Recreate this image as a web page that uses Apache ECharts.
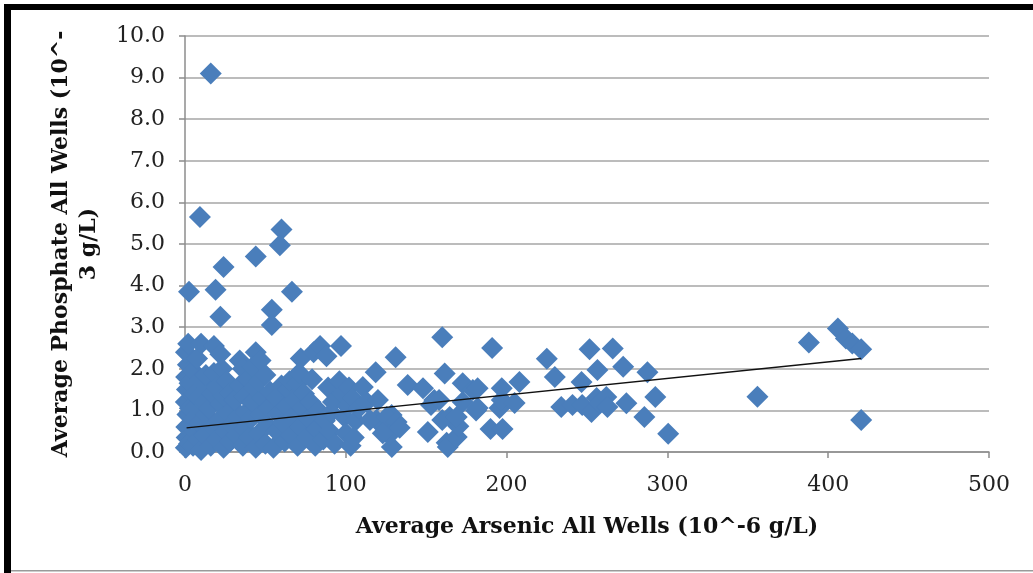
<!DOCTYPE html>
<html>
<head>
<meta charset="utf-8">
<script src="https://cdn.jsdelivr.net/npm/echarts@6/dist/echarts.min.js"></script>
<style>
  html, body { margin: 0; padding: 0; background: #fff; }
  #chart { width: 1033px; height: 573px; }
</style>
</head>
<body>
<div id="chart"></div>
<script>
// arsenic (x) vs phosphate (y)
const clusterPoints = [
  [0.5,0.1],[1,0.35],[0.8,0.6],[1.5,0.9],[0.5,1.2],[1.2,1.5],[0.7,1.8],[1.8,2.1],[0.6,2.4],[2,2.6],[2.5,0.2],[3,1.05],[2.8,1.65],
  [5,0.15],[6,0.5],[5.5,0.8],[7,1.1],[6,1.4],[5,1.95],[7.5,2.25],[8,0.3],[9,0.7],[8.5,1.3],[9.5,1.75],[10,2.6],[10,0.05],
  [12,0.4],[13,0.9],[12,1.2],[14,1.55],[13,1.85],[16,0.15],[17,0.6],[15,1.05],[17,1.4],[18,2.55],[18,1.9],
  [20,0.3],[21,0.75],[22,1.15],[20,1.55],[23,2.0],[22,2.35],[24,0.1],[25,0.5],[26,0.95],[24,1.35],[26,1.7],
  [28,0.25],[29,0.65],[30,1.05],[28,1.4],[32,0.4],[33,0.85],[31,1.25],[34,1.6],[34,2.2],[36,2.0],
  [36,0.15],[37,0.55],[38,0.95],[37,1.35],[39,1.75],[40,0.35],[41,0.8],[42,1.2],[43,1.55],[44,2.4],[42,2.05],[44,0.1],
  [46,0.45],[47,0.9],[48,1.3],[46,1.7],[47,2.2],[50,0.2],[51,0.65],[52,1.05],[53,1.45],[50,1.85],[55,0.1],
  [57,0.5],[58,0.9],[57,1.3],[60,1.6],[62,0.25],[61,0.7],[63,1.1],[64,1.5],[65,1.7],
  [66,0.4],[67,0.85],[68,1.25],[70,1.65],[72,2.25],[71,1.9],[70,0.15],[72,0.6],[73,1.05],[74,1.4],
  [76,0.35],[77,0.8],[78,1.2],[79,1.75],[80,2.4],[82,0.55],[83,1.0],[84,2.55],[81,0.15],
  [86,0.3],[87,0.75],[88,2.3],[89,1.55],[90,0.5],[91,0.95],[92,1.2],[93,0.2],
  [96,1.7],[97,2.55],[98,1.4],[99,0.85],[100,0.45],[101,1.1],[102,1.55],[103,0.15],[104,1.3],[106,0.75],[108,1.05],[105,0.35]
];
const midPoints = [
  [110.6,1.56],[113,1.2],[118.6,1.92],[120,1.25],[119,0.77],[115,0.77],[128.5,0.89],[125.5,0.84],[131.6,0.72],
  [128.6,0.12],[127,0.41],[123,0.45],[133.5,0.58],[131,2.28],[138.5,1.61],[148,1.53],[151,0.48],[155,1.25],[153,1.13],
  [158,1.25],[160,2.76],[161.5,1.89],[160,0.77],[164.6,0.84],[162.7,0.22],[163.4,0.12],[169,0.36],[170,0.62],
  [169,0.84],[172.7,1.2],[172.7,1.65],[179,1.49],[182,1.53],[181,1.0],[182,1.06],[190,0.55],[191,2.5],[197.5,0.55],
  [195.6,1.06],[197,1.25],[197,1.53],[205,1.18],[208,1.68],[225,2.24],[230,1.8],[234,1.08],[241,1.13],[246.6,1.68],
  [247,1.13],[251.6,2.47],[252.8,0.96],[256,1.3],[256.5,1.97],[257.8,1.18],[262,1.32],[262.7,1.08],[266,2.49],
  [272.5,2.05],[274.5,1.17],[285.7,0.84],[287.6,1.92],[292.5,1.32],[300.5,0.44]
];
const highPoints = [
  [16,9.1],[9.3,5.65],[2.5,3.85],[19,3.9],[22,3.25],[24,4.45],[44,4.7],[60,5.35],[59,4.97],[66.5,3.85],[54,3.42],[54,3.05]
];
const farPoints = [
  [356,1.33],[388,2.63],[406,2.97],[411,2.73],[415,2.61],[420.5,2.47],[420.5,0.77]
];
const trendLine = [[1,0.58],[420.5,2.25]];

const xTicks = { min: 0, max: 500, interval: 100 };
const yTicks = { min: 0, max: 10, interval: 1 };

const chart = echarts.init(document.getElementById('chart'));
const font = 'DejaVu Serif';

chart.setOption({
  animation: false,
  backgroundColor: '#fff',
  grid: { left: 185, right: 44, top: 36, bottom: 121 },
  xAxis: {
    type: 'value',
    min: xTicks.min, max: xTicks.max, interval: xTicks.interval,
    name: 'Average Arsenic All Wells (10^-6 g/L)',
    nameLocation: 'middle',
    nameGap: 64,
    nameTextStyle: { fontFamily: font, fontWeight: 'bold', fontSize: 22, color: '#111' },
    axisLine: { lineStyle: { color: '#8c8c8c', width: 1.5 } },
    axisTick: { show: true, length: 6, lineStyle: { color: '#8c8c8c', width: 1.5 } },
    axisLabel: { fontFamily: font, fontSize: 22, color: '#222', margin: 22 },
    splitLine: { show: false }
  },
  yAxis: {
    type: 'value',
    min: yTicks.min, max: yTicks.max, interval: yTicks.interval,
    name: 'Average Phosphate All Wells (10^-\n3 g/L)',
    nameLocation: 'middle',
    nameGap: 82,
    nameRotate: 90,
    nameTextStyle: { fontFamily: font, fontWeight: 'bold', fontSize: 22, color: '#111', lineHeight: 28, align: 'center' },
    axisLine: { show: true, lineStyle: { color: '#8c8c8c', width: 1.5 } },
    axisTick: { show: true, length: 6, lineStyle: { color: '#8c8c8c', width: 1.5 } },
    axisLabel: { fontFamily: font, fontSize: 22, color: '#222', margin: 20, formatter: v => v.toFixed(1) },
    splitLine: { lineStyle: { color: '#a6a6a6', width: 1.5 } }
  },
  graphic: [
    { type: 'rect', shape: { x: 4, y: 4, width: 1029, height: 6 }, style: { fill: '#000' } },
    { type: 'rect', shape: { x: 4, y: 4, width: 7, height: 569 }, style: { fill: '#000' } },
    { type: 'rect', shape: { x: 11, y: 570, width: 1022, height: 1.5 }, style: { fill: '#9a9a9a' } }
  ],
  series: [
    {
      type: 'scatter',
      symbol: 'diamond',
      symbolSize: 22,
      itemStyle: { color: '#4a7ebb', opacity: 1 },
      data: clusterPoints.concat(midPoints, highPoints, farPoints)
    },
    {
      type: 'line',
      data: trendLine,
      showSymbol: false,
      symbol: 'none',
      lineStyle: { color: '#111', width: 1.5 },
      z: 5
    }
  ]
});
</script>
</body>
</html>
